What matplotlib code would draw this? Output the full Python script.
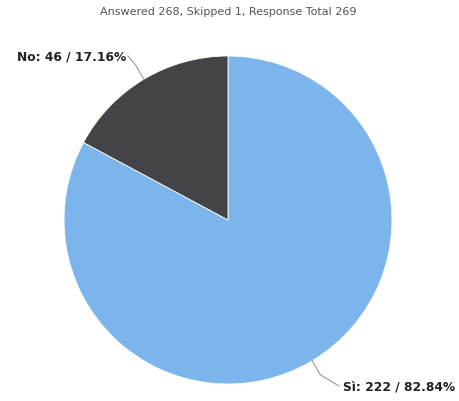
import numpy as np
import matplotlib
matplotlib.use("Agg")
import matplotlib.pyplot as plt

categories = ["Sì", "No"]
counts = [222, 46]
percents = [82.84, 17.16]
colors = ["#7cb5ec", "#434348"]
title = "Answered 268, Skipped 1, Response Total 269"

W, H = 459, 402
fig = plt.figure(figsize=(W / 100, H / 100), dpi=100)
ax = fig.add_axes([0, 0, 1, 1])

cx, cy, r = 228, H - 221, 164
wedges, _ = ax.pie(counts, colors=colors, startangle=90, counterclock=False,
                   center=(cx, cy), radius=r, frame=True,
                   wedgeprops=dict(linewidth=0.6, edgecolor="white"))
ax.set_xlim(0, W)
ax.set_ylim(0, H)
ax.set_aspect("equal")
ax.axis("off")

fig.text(0.497, 1 - 12 / H, title, ha="center", va="center", fontsize=8,
         color="#555555")

# label placement (pixel coords, y from top)
label_pos = {"Sì": (343, 387, "left"), "No": (126, 57, "right")}
for w, cat, n, p in zip(wedges, categories, counts, percents):
    mid = np.deg2rad((w.theta1 + w.theta2) / 2)
    ex, ey = cx + r * np.cos(mid), cy + r * np.sin(mid)
    lx, ly, ha = label_pos[cat]
    ly = H - ly
    if ha == "right":
        bx, by = ex - 8, ey + 14
        pts = [(ex, ey), (bx, by), (lx + 2, ly)]
    else:
        bx, by = ex + 8, ey - 14
        pts = [(ex, ey), (bx, by), (lx - 4, ly)]
    xs, ys = zip(*pts)
    ax.plot(xs, ys, color="#999999", lw=0.8)
    ax.text(lx, ly, f"{cat}: {n} / {p:.2f}%", ha=ha, va="center",
            fontsize=8.8, fontweight="bold", color="#222222")

fig.savefig("out.png", dpi=100)
